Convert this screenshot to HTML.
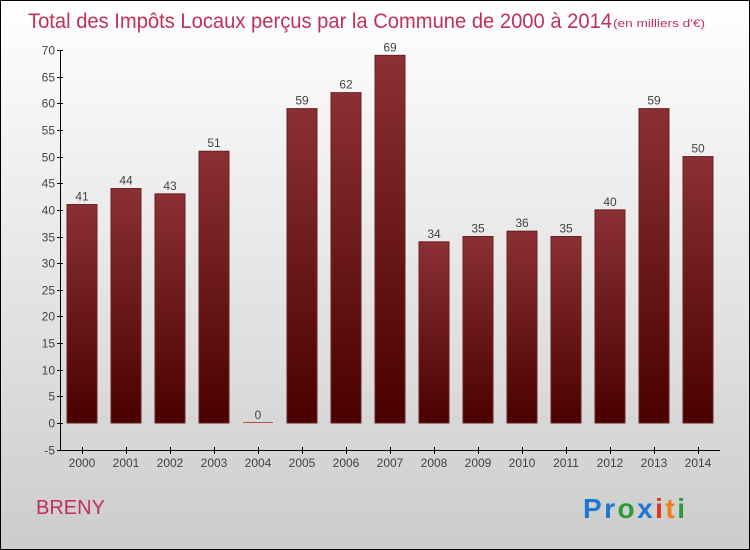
<!DOCTYPE html>
<html><head><meta charset="utf-8"><style>
body{margin:0}
svg{display:block;font-family:"Liberation Sans",sans-serif}
</style></head><body>
<svg width="750" height="550">
<defs>
<linearGradient id="bg" x1="0" y1="0" x2="0" y2="1"><stop offset="0" stop-color="#ffffff"/><stop offset="1" stop-color="#cccccc"/></linearGradient>
<linearGradient id="bar" x1="0" y1="0" x2="0" y2="1"><stop offset="0" stop-color="#8a3036"/><stop offset="1" stop-color="#4a0000"/></linearGradient>
</defs>
<rect x="0.5" y="0.5" width="749" height="549" fill="url(#bg)" stroke="#000"/>
<text x="28" y="28" font-size="21" fill="#c2305a" textLength="584" lengthAdjust="spacingAndGlyphs">Total des Impôts Locaux perçus par la Commune de 2000 à 2014</text>
<text x="613" y="27" font-size="11" fill="#c2305a" textLength="92" lengthAdjust="spacingAndGlyphs">(en milliers d'€)</text>
<g id="plot"></g>
<text x="36" y="514" font-size="20" fill="#c2305a">BRENY</text>
<text x="583" y="518" font-size="28" font-weight="bold" textLength="102"><tspan fill="#1e78d2">Pr</tspan><tspan fill="#2a9a3a">o</tspan><tspan fill="#1e78d2">x</tspan><tspan fill="#e03020">i</tspan><tspan fill="#f08010">t</tspan><tspan fill="#2a9a3a">i</tspan></text>
</svg>
<script>
const years=["2000","2001","2002","2003","2004","2005","2006","2007","2008","2009","2010","2011","2012","2013","2014"];
const values=[41,44,43,51,0,59,62,69,34,35,36,35,40,59,50];
const yTicks=[-5,0,5,10,15,20,25,30,35,40,45,50,55,60,65,70];
const NS="http://www.w3.org/2000/svg";
const g=document.getElementById('plot');
const y=v=>423-(v)*(373/70);
const x=i=>82+i*44;
function mk(t,a,p){const e=document.createElementNS(NS,t);for(const k in a)e.setAttribute(k,a[k]);(p||g).appendChild(e);return e;}
let ax=mk('line',{x1:60.5,y1:50,x2:60.5,y2:450,stroke:'#000'});


let bx=mk('line',{x1:60,y1:450.5,x2:720,y2:450.5,stroke:'#000'});


yTicks.forEach(v=>{
 const yy=Math.round(y(v))+0.5;
 mk('line',{x1:57,y1:yy,x2:63,y2:yy,stroke:'#000'});
 const t=mk('text',{x:55,y:yy+4,'font-size':12,fill:'#444','text-anchor':'end'});
 t.textContent=v;
 
 
});
years.forEach((yr,i)=>{
 const cx=x(i),v=values[i];
 mk('line',{x1:cx+0.5,y1:447,x2:cx+0.5,y2:454,stroke:'#000'});
 const t=mk('text',{x:cx,y:467,'font-size':12,fill:'#444','text-anchor':'middle'});
 t.textContent=yr;
 
 
 const top=y(v),h=Math.max(y(0)-top,1);
 const b=mk('rect',{x:cx-15,y:v>0?top:y(0)-1,width:30,height:h,fill:v>0?'url(#bar)':'#b05050',stroke:v>0?'#6a2020':'none','stroke-width':1});
 
 
 const l=mk('text',{x:cx,y:(v>0?top:y(0))-4,'font-size':12,fill:'#444','text-anchor':'middle'});
 l.textContent=v;
 
 
});
</script>
</body></html>
